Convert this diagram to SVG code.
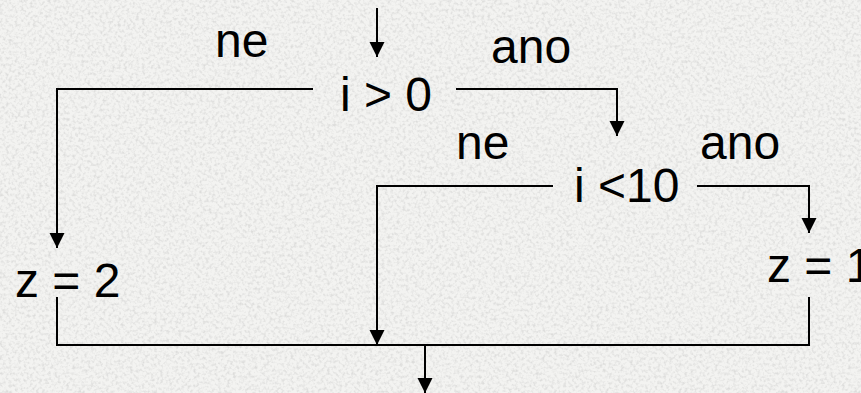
<svg xmlns="http://www.w3.org/2000/svg" width="861" height="393" viewBox="0 0 861 393">
  <defs>
    <style>
      .t { font-family: "Liberation Sans", Arial, sans-serif; font-size: 48px; fill: #000; }
      .c { fill: none; stroke: #000; stroke-width: 2; }
    </style>
    <marker id="ah" markerUnits="userSpaceOnUse" markerWidth="16" markerHeight="16" refX="15" refY="7.5" orient="auto">
      <path d="M0,0 L15,7.5 L0,15 Z" fill="#000"/>
    </marker>
    <filter id="noise" x="0" y="0" width="100%" height="100%">
      <feTurbulence type="fractalNoise" baseFrequency="0.33" numOctaves="2" seed="7" result="n"/>
      <feColorMatrix in="n" type="matrix" values="0 0 0 0 0.72  0 0 0 0 0.72  0 0 0 0 0.71  2.6 0 0 0 -1.15"/>
    </filter>
  </defs>
  <rect width="861" height="393" fill="#f3f3f1"/>
  <rect width="861" height="393" filter="url(#noise)"/>

  <g id="connectors">
    <path class="c" d="M377,8 V57" marker-end="url(#ah)"/>
    <path class="c" d="M313,89 H57 V248" marker-end="url(#ah)"/>
    <path class="c" d="M456,89 H617 V136" marker-end="url(#ah)"/>
    <path class="c" d="M553,186 H377 V345" marker-end="url(#ah)"/>
    <path class="c" d="M697,186 H809 V233" marker-end="url(#ah)"/>
    <path class="c" d="M57,297 V345 H809 V297"/>
    <path class="c" d="M425,345 V393" marker-end="url(#ah)"/>
  </g>

  <g id="cond1"><text class="t" x="340" y="111">i &gt; 0</text></g>
  <g id="label-ne1"><text class="t" x="215" y="57">ne</text></g>
  <g id="label-ano1"><text class="t" x="491" y="63">ano</text></g>
  <g id="cond2"><text class="t" x="574" y="202">i &lt;10</text></g>
  <g id="label-ne2"><text class="t" x="456" y="159">ne</text></g>
  <g id="label-ano2"><text class="t" x="700" y="159">ano</text></g>
  <g id="assign2"><text class="t" x="15" y="297">z = 2</text></g>
  <g id="assign1"><text class="t" x="767" y="282">z = 1</text></g>
</svg>
